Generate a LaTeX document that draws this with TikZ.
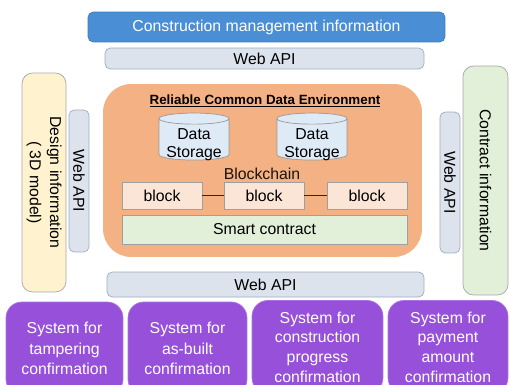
\documentclass[tikz,border=0pt]{standalone}
\usepackage{fontspec}
\setmainfont{Liberation Sans}
\usepackage{xcolor}
\usetikzlibrary{shapes.geometric}

\definecolor{cmblue}{RGB}{74,142,214}
\definecolor{apifill}{RGB}{221,227,237}
\definecolor{apiline}{RGB}{158,172,192}
\definecolor{dsgfill}{RGB}{255,242,206}
\definecolor{ctrfill}{RGB}{226,240,217}
\definecolor{envfill}{RGB}{244,177,131}
\definecolor{cylfill}{RGB}{222,235,247}
\definecolor{blkfill}{RGB}{251,229,214}
\definecolor{sysfill}{RGB}{150,80,218}

\begin{document}
\begin{tikzpicture}[x=0.02cm, y=-0.02cm,
  every node/.style={font=\fontsize{9}{11.5}\selectfont, inner sep=0pt},
  api/.style={draw=apiline, fill=apifill, rounded corners=3pt},
  side/.style={draw=gray!70, rounded corners=6pt, rotate=-90, align=center},
  cyl/.style={draw=gray!80, fill=cylfill, shape=cylinder, shape border rotate=90,
    aspect=0.2, minimum width=1.4cm, minimum height=0.94cm},
  blk/.style={draw=gray!75, fill=blkfill, minimum width=1.6cm, minimum height=0.54cm},
  sys/.style={fill=sysfill, draw=sysfill!80!white, rounded corners=9pt, text=white,
    align=center, minimum height=1.86cm}]
  \useasboundingbox (0,0) rectangle (510,385);
  \clip (0,0) rectangle (510,385);

  \node[fill=cmblue, draw=cmblue!85!black, rounded corners=3pt, text=white,
    minimum width=7.14cm, minimum height=0.6cm] (cmi) at (266.5,27)
    {Construction management information};
  \node[api, minimum width=6.38cm, minimum height=0.42cm] (apit) at (264.5,58.5) {Web API};

  \node[side, fill=dsgfill, minimum width=4.38cm, minimum height=0.88cm] (dsg) at (44,182.5)
    {Design information\\( 3D model)};
  \node[api, rotate=-90, minimum width=2.84cm, minimum height=0.4cm] (apil) at (79,181) {Web API};
  \node[api, rotate=-90, minimum width=2.82cm, minimum height=0.4cm] (apir) at (450,182.5) {Web API};
  \node[side, fill=ctrfill, minimum width=4.58cm, minimum height=0.9cm] (ctr) at (485.5,180.5)
    {Contract information};

  % common data environment
  \node[fill=envfill, rounded corners=16pt, minimum width=6.38cm, minimum height=3.46cm]
    (env) at (262.5,170.5) {};
  \node[font=\fontsize{7.6}{9}\selectfont\bfseries] (ttl) at (265,101)
    {\underline{Reliable Common Data Environment}};
  \node[cyl] (ds1) at (194,139.5) {\phantom{Storage}};
  \node[cyl] (ds2) at (312,139.5) {\phantom{Storage}};
  \node[align=center, font=\fontsize{9}{10}\selectfont] (ds1t) at (194,144.5) {Data\\Storage};
  \node[align=center, font=\fontsize{9}{10}\selectfont] (ds2t) at (312,144.5) {Data\\Storage};
  \node[text=black!85!brown] (bch) at (262,174) {Blockchain};
  \node[blk] (b1) at (162,195.5) {block};
  \node[blk] (b2) at (264,195.5) {block};
  \node[blk] (b3) at (367,195.5) {block};
  \draw[black!70!brown] (b1)--(b2); \draw[black!70!brown] (b2)--(b3);
  \node[draw=gray!75, fill=ctrfill, minimum width=5.7cm, minimum height=0.58cm]
    (sc) at (264.5,229.5) {Smart contract};

  \node[api, minimum width=6.34cm, minimum height=0.5cm] (apib) at (265.5,284.5) {Web API};

  \node[sys, minimum width=2.34cm] (s1) at (64.5,348.5) {System for\\tampering\\confirmation};
  \node[sys, minimum width=2.38cm] (s2) at (187.5,348.5) {System for\\as-built\\confirmation};
  \node[sys, minimum width=2.62cm, font=\fontsize{9}{11.2}\selectfont] (s3) at (317.5,347)
    {System for\\construction\\progress\\confirmation};
  \node[sys, minimum width=2.4cm, font=\fontsize{9}{11.2}\selectfont] (s4) at (448,347)
    {System for\\payment\\amount\\confirmation};
\end{tikzpicture}
\end{document}
